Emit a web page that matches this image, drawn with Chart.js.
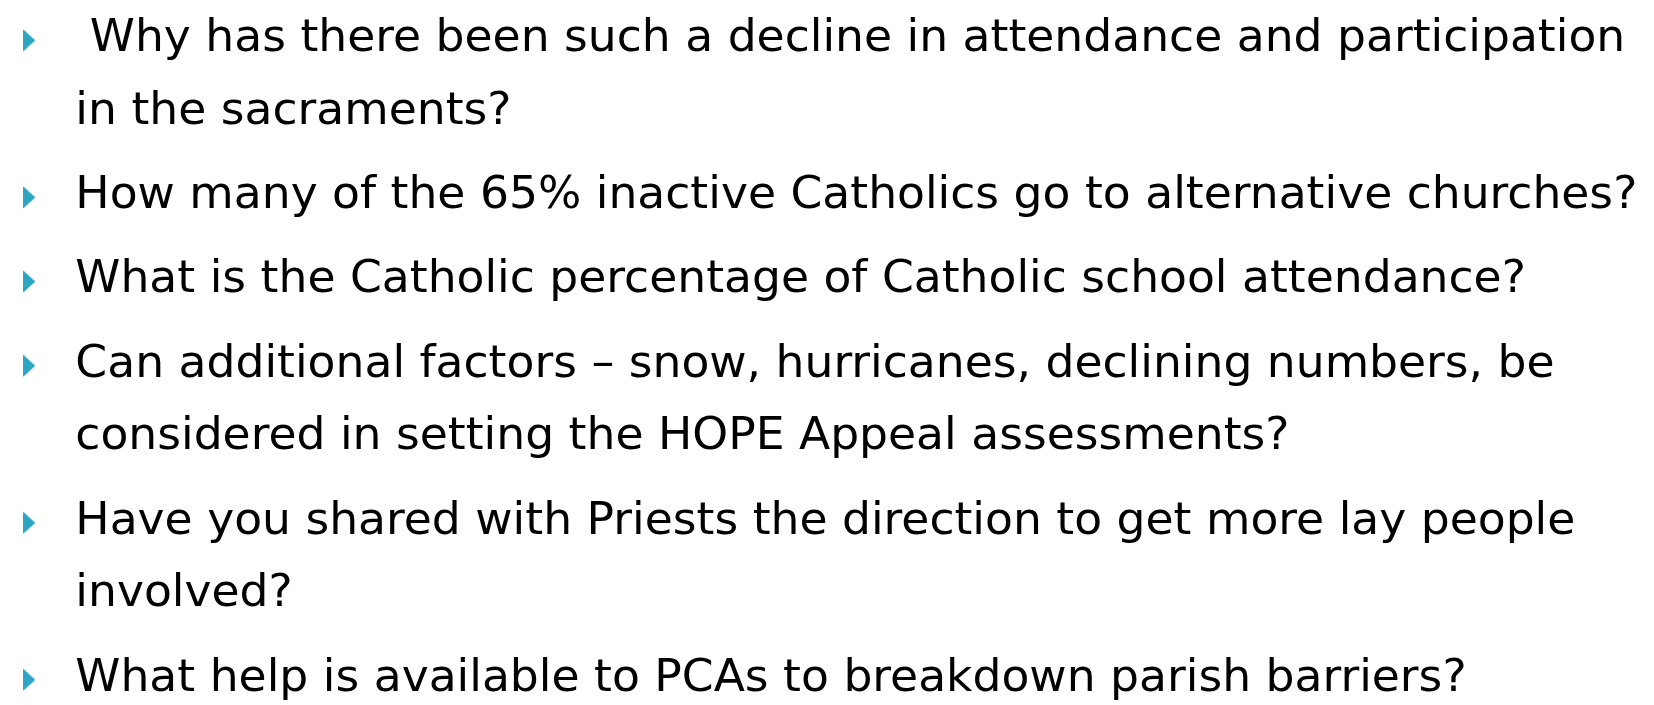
<!DOCTYPE html>
<html>
<head>
<meta charset="utf-8">
<script src="https://cdn.jsdelivr.net/npm/chart.js@4.4.1/dist/chart.umd.min.js"></script>
<style>
  html, body { margin: 0; padding: 0; background: #ffffff; overflow: hidden; }
  #wrap { position: relative; width: 1654px; height: 705px; }
</style>
</head>
<body>
<div id="wrap"><canvas id="c" aria-label="Questions slide" role="img"></canvas></div>
<script>
// ---- Content (one array per bullet paragraph; each entry is a visual line) ----
const para1 = [" Why has there been such a decline in attendance and participation", "in the sacraments?"];
const para2 = ["How many of the 65% inactive Catholics go to alternative churches?"];
const para3 = ["What is the Catholic percentage of Catholic school attendance?"];
const para4 = ["Can additional factors \u2013 snow, hurricanes, declining numbers, be", "considered in setting the HOPE Appeal assessments?"];
const para5 = ["Have you shared with Priests the direction to get more lay people", "involved?"];
const para6 = ["What help is available to PCAs to breakdown parish barriers?"];
const paragraphs = [para1, para2, para3, para4, para5, para6];

// ---- Layout / style ----
const FONT_FAMILY = '"DejaVu Sans", "Liberation Sans", sans-serif';
const FONT_SIZE = 45;
const TEXT_COLOR = '#000000';
const BULLET_COLOR = '#2ca5c2';
const FIRST_BASELINE = 45;
const LINE_STEP = 74.3;
const PARA_GAP = 11.6;
const INK_LEFT = 73;          // left ink edge of text
const REF_LINE_WIDTH = 1555;  // ink width of the widest reference line
const BULLET_X = 22.5;
const BULLET_RAISE = 11;

// build line table
const lineRows = [];
const bulletRows = [];
let y = FIRST_BASELINE;
paragraphs.forEach((p, pi) => {
  if (pi > 0) y += PARA_GAP;
  p.forEach((txt, li) => {
    if (pi > 0 || li > 0) y += LINE_STEP;
    lineRows.push({ y: y, text: txt });
    if (li === 0) bulletRows.push({ x: BULLET_X, y: y - BULLET_RAISE });
  });
});

// custom narrow triangle bullet
const tri = document.createElement('canvas');
tri.width = 12; tri.height = 23;
const tctx = tri.getContext('2d');
tctx.fillStyle = BULLET_COLOR;
tctx.beginPath();
tctx.moveTo(0, 0.5);
tctx.lineTo(12, 11.5);
tctx.lineTo(0, 22.5);
tctx.closePath();
tctx.fill();

const textPlugin = {
  id: 'slideText',
  afterDatasetsDraw(chart) {
    const ctx = chart.ctx;
    const xs = chart.scales.x, ys = chart.scales.y;
    ctx.save();
    ctx.font = FONT_SIZE + 'px ' + FONT_FAMILY;
    ctx.fillStyle = TEXT_COLOR;
    ctx.textBaseline = 'alphabetic';
    ctx.textAlign = 'left';
    // horizontal fit to reference widest line
    const m = ctx.measureText(para2[0]);
    const ink = m.actualBoundingBoxRight + m.actualBoundingBoxLeft;
    const sx = REF_LINE_WIDTH / ink;
    const startX = INK_LEFT + m.actualBoundingBoxLeft * sx;
    lineRows.forEach(r => {
      const px = xs.getPixelForValue(startX);
      const py = ys.getPixelForValue(r.y);
      ctx.save();
      ctx.translate(px, py);
      ctx.scale(sx, 1);
      ctx.fillText(r.text, 0, 0);
      ctx.restore();
    });
    ctx.restore();
  }
};

new Chart(document.getElementById('c'), {
  type: 'scatter',
  data: {
    datasets: [{
      data: bulletRows,
      pointStyle: tri,
      pointRadius: 6,
      pointHoverRadius: 6,
      clip: false
    }]
  },
  options: {
    responsive: true,
    maintainAspectRatio: false,
    animation: false,
    events: [],
    layout: { padding: 0 },
    plugins: { legend: { display: false }, tooltip: { enabled: false } },
    scales: {
      x: { type: 'linear', display: false, min: 0, max: 1654 },
      y: { type: 'linear', display: false, min: 0, max: 705, reverse: true }
    }
  },
  plugins: [textPlugin]
});
</script>
</body>
</html>
